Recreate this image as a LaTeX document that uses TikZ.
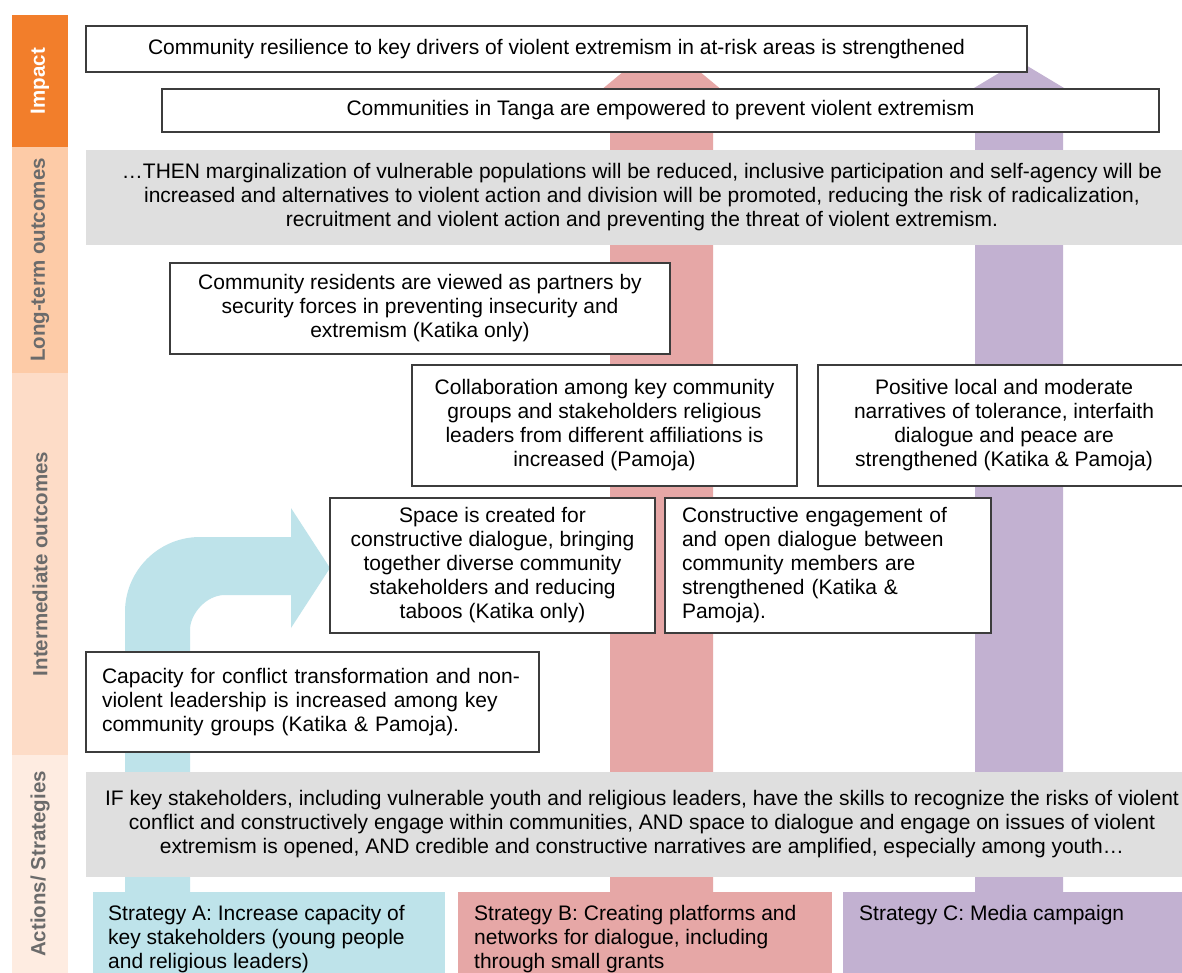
\documentclass[tikz,border=0pt]{standalone}
\usepackage{fontspec}
\setmainfont{Liberation Sans}
\usepackage{tikz}
\usetikzlibrary{positioning}
\definecolor{impactor}{HTML}{F27E2B}
\definecolor{longor}{HTML}{FDCBA7}
\definecolor{interor}{HTML}{FDDCC7}
\definecolor{actor}{HTML}{FEECE1}
\definecolor{bandtext}{HTML}{6B6B6B}
\definecolor{ifgray}{HTML}{DFDFDF}
\definecolor{stratA}{HTML}{BEE3EA}
\definecolor{stratB}{HTML}{E6A7A6}
\definecolor{stratC}{HTML}{C2B1D1}
\definecolor{boxline}{HTML}{3C3C3C}

\begin{document}
\begin{tikzpicture}[x=1pt,y=-1pt,
    band/.style={rotate=90,minimum height=56pt,inner sep=0pt,font=\fontsize{20.5}{24}\selectfont\bfseries,text=bandtext},
    outbox/.style={draw=boxline,line width=1.4pt,fill=white,inner sep=0pt,align=center,font=\fontsize{21}{24}\selectfont},
    graybox/.style={fill=ifgray,inner sep=0pt,align=center,font=\fontsize{21}{24}\selectfont},
    stratbox/.style={anchor=north west,inner sep=0pt,minimum height=90pt},
    strattext/.style={anchor=north west,align=left,inner sep=0pt,font=\fontsize{21}{24}\selectfont}]
    \useasboundingbox (0,0) rectangle (1182,973);
    \fill[white] (0,0) rectangle (1182,973);

    \node[band,fill=impactor,text=white,minimum width=132pt] (impact) at (40,81) {Impact};
    \node[band,fill=longor,minimum width=226pt] (longterm) at (40,260) {Long-term outcomes};
    \node[band,fill=interor,minimum width=382pt] (inter) at (40,564) {Intermediate outcomes};
    \node[band,fill=actor,minimum width=218pt] (actions) at (40,864) {Actions/ Strategies};

    \fill[stratB] (610,973) -- (610,110) -- (577,110) -- (661.5,40) -- (746,110) -- (713,110) -- (713,973) -- cycle;
    \fill[stratC] (975,973) -- (975,115) -- (929,115) -- (1019,61) -- (1109,115) -- (1063,115) -- (1063,973) -- cycle;
    \fill[stratA] (125,973) -- (125,612) .. controls (125,570.6) and (158.6,537) .. (200,537) -- (291,537) -- (291,508) -- (330,568) -- (291,628) -- (291,595) -- (225,595) .. controls (205.7,595) and (190,614.3) .. (190,630) -- (190,973) -- cycle;

    \node[outbox,minimum width=941pt,minimum height=46pt] (resil) at (556.5,49) {Community resilience to key drivers of violent extremism in at-risk areas is strengthened};
    \node[outbox,minimum width=997pt,minimum height=43pt] (tanga) at (660.5,110.5) {Communities in Tanga are empowered to prevent violent extremism};
    \node[graybox,minimum width=1112pt,minimum height=95pt] (then) at (642,197.5) {\dots THEN marginalization of vulnerable populations will be reduced, inclusive participation and self-agency will be\\increased and alternatives to violent action and division will be promoted, reducing the risk of radicalization,\\recruitment and violent action and preventing the threat of violent extremism.};

    \node[outbox,minimum width=500pt,minimum height=91pt] (partners) at (420,308.5) {Community residents are viewed as partners by\\security forces in preventing insecurity and\\extremism (Katika only)};
    \node[outbox,minimum width=385pt,minimum height=121pt] (collab) at (604.5,425.5) {Collaboration among key community\\groups and stakeholders religious\\leaders from different affiliations is\\increased (Pamoja)};
    \node[outbox,minimum width=372pt,minimum height=121pt] (positive) at (1004,425.5) {Positive local and moderate\\narratives of tolerance, interfaith\\dialogue and peace are\\strengthened (Katika \& Pamoja)};
    \node[outbox,minimum width=325pt,minimum height=135pt] (space) at (492.5,565.5) {Space is created for\\constructive dialogue, bringing\\together diverse community\\stakeholders and reducing\\taboos (Katika only)};
    \node[outbox,minimum width=326pt,minimum height=135pt,align=left,text width=292pt] (engage) at (828,565.5) {Constructive engagement of\\and open dialogue between\\community members are\\strengthened (Katika \&\\Pamoja).};
    \node[outbox,minimum width=453pt,minimum height=100pt,align=left,text width=421pt] (capacity) at (312.5,702) {Capacity for conflict transformation and non-\\violent leadership is increased among key\\community groups (Katika \& Pamoja).};

    \node[graybox,minimum width=1112pt,minimum height=105pt] (ifbox) at (642,824.5) {IF key stakeholders, including vulnerable youth and religious leaders, have the skills to recognize the risks of violent\\conflict and constructively engage within communities, AND space to dialogue and engage on issues of violent\\extremism is opened, AND credible and constructive narratives are amplified, especially among youth\dots};

    \node[stratbox,fill=stratA,minimum width=352pt] (sA) at (93,892) {};
    \node[stratbox,fill=stratB,minimum width=374pt] (sB) at (458,892) {};
    \node[stratbox,fill=stratC,minimum width=360pt] (sC) at (843,892) {};
    \node[strattext] (sAtext) at (108,905) {Strategy A: Increase capacity of\\key stakeholders (young people\\and religious leaders)};
    \node[strattext] (sBtext) at (474,905) {Strategy B: Creating platforms and\\networks for dialogue, including\\through small grants};
    \node[strattext] (sCtext) at (859,905) {Strategy C: Media campaign};
\end{tikzpicture}
\end{document}
